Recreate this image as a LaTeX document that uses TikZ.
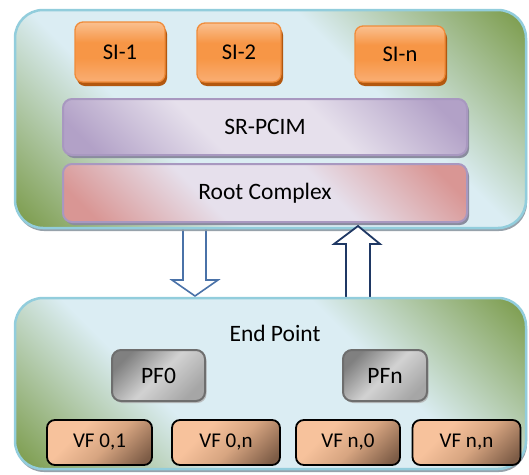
\documentclass[tikz,border=0pt]{standalone}
\usepackage{fontspec}
\setmainfont{Carlito}
\usetikzlibrary{shadows}
\definecolor{cgreen}{HTML}{7B9B4A}
\definecolor{clight}{HTML}{DBEDF3}
\definecolor{cborder}{HTML}{92CDDC}
\definecolor{contShadow}{HTML}{8C98A2}
\definecolor{siTop}{HTML}{FAC090}
\definecolor{siMid}{HTML}{F79646}
\definecolor{siBot}{HTML}{F9AE74}
\definecolor{siBorder}{HTML}{F08C3A}
\definecolor{siShadow}{HTML}{B3580F}
\definecolor{pcimLight}{HTML}{E6E0EC}
\definecolor{pcimDark}{HTML}{B2A1C7}
\definecolor{pcimBorder}{HTML}{A898C0}
\definecolor{rcDark}{HTML}{D99694}
\definecolor{boxShadow}{HTML}{8A8C9E}
\definecolor{pfDark}{HTML}{808080}
\definecolor{pfMid}{HTML}{A6A6A6}
\definecolor{pfLight}{HTML}{D2D2D2}
\definecolor{pfBorder}{HTML}{6E6E6E}
\definecolor{vfLight}{HTML}{F7C29C}
\definecolor{vfMid}{HTML}{D7A581}
\definecolor{vfDark}{HTML}{7D5C46}
\definecolor{arrowA}{HTML}{4A72A8}
\definecolor{arrowB}{HTML}{1F3864}
\pgfdeclareverticalshading{contsh}{100bp}{color(0bp)=(cgreen); color(15bp)=(cgreen); color(37bp)=(clight); color(63bp)=(clight); color(85bp)=(cgreen); color(100bp)=(cgreen)}
\pgfdeclareverticalshading{pcimsh}{100bp}{color(0bp)=(pcimDark); color(20bp)=(pcimDark); color(40bp)=(pcimLight); color(60bp)=(pcimLight); color(80bp)=(pcimDark); color(100bp)=(pcimDark)}
\pgfdeclareverticalshading{rcsh}{100bp}{color(0bp)=(rcDark); color(20bp)=(rcDark); color(40bp)=(pcimLight); color(60bp)=(pcimLight); color(80bp)=(rcDark); color(100bp)=(rcDark)}
\pgfdeclareverticalshading{sish}{100bp}{color(0bp)=(siBot); color(25bp)=(siBot); color(45bp)=(siMid); color(58bp)=(siMid); color(75bp)=(siTop); color(100bp)=(siTop)}
\pgfdeclareverticalshading{pfsh}{100bp}{color(0bp)=(pfMid); color(25bp)=(pfMid); color(50bp)=(pfLight); color(75bp)=(pfDark); color(100bp)=(pfDark)}
\pgfdeclareverticalshading{vfsh}{100bp}{color(0bp)=(vfDark); color(20bp)=(vfDark); color(45bp)=(vfMid); color(65bp)=(vfLight); color(100bp)=(vfLight)}
\begin{document}
\begin{tikzpicture}[x=1pt,y=1pt,
  contbox/.style={draw=cborder, line width=2.5pt, rounded corners=28pt, shade, shading=contsh, shading angle=-45,
    drop shadow={shadow xshift=1pt, shadow yshift=-3pt, fill=contShadow, opacity=0.9}, inner sep=0pt},
  sibox/.style={draw=siBorder, line width=1.3pt, rounded corners=8pt, shade, shading=sish,
    drop shadow={shadow xshift=2pt, shadow yshift=-4pt, fill=siShadow, opacity=1}, inner sep=0pt,
    font=\fontsize{22.5}{26}\selectfont},
  layerbox/.style={draw=pcimBorder, line width=2pt, rounded corners=9pt, shade, shading angle=-45,
    drop shadow={shadow xshift=2pt, shadow yshift=-3pt, fill=boxShadow, opacity=1}, inner sep=0pt,
    font=\fontsize{23.5}{27}\selectfont},
  pfbox/.style={draw=pfBorder, line width=2pt, rounded corners=9pt, shade, shading=pfsh, shading angle=45,
    drop shadow={shadow xshift=1.5pt, shadow yshift=-2pt, fill=gray!60, opacity=0.8}, inner sep=0pt,
    font=\fontsize{23.5}{27}\selectfont},
  vfbox/.style={draw=black, line width=1.8pt, rounded corners=8pt, shade, shading=vfsh, shading angle=45,
    inner sep=0pt, minimum height=45, font=\fontsize{21}{25}\selectfont},
  darrow/.style={draw=arrowA, line width=1.6pt, fill=white, line join=miter},
  uarrow/.style={draw=arrowB, line width=1.8pt, fill=white, line join=miter}
]
\useasboundingbox (0,0) rectangle (529,-474);
% down arrow (behind the upper container)
\coordinate (dtip) at (195,-296);
\draw[darrow] (dtip) -- ++(23,16) -- ++(-12,0) -- ++(0,65) -- ++(-23,0) -- ++(0,-65) -- ++(-11,0) -- cycle;
% upper container
\node[contbox, minimum width=511, minimum height=218] (top) at (270.5,-119) {};
\node[sibox, minimum width=90, minimum height=60] (si1) at (120,-52) {SI-1};
\node[sibox, minimum width=84, minimum height=59] (si2) at (239,-52.5) {SI-2};
\node[sibox, minimum width=90, minimum height=56] (sin) at (400,-54) {SI-n};
\node[layerbox, shading=pcimsh, minimum width=404, minimum height=56] (pcim) at (265,-127) {SR-PCIM};
\node[layerbox, shading=rcsh, minimum width=404, minimum height=58] (rc) at (265,-193) {Root Complex};
% up arrow
\coordinate (utip) at (358,-226);
\draw[uarrow] (utip) -- ++(22,-18) -- ++(-10,0) -- ++(0,-55) -- ++(-24,0) -- ++(0,55) -- ++(-12,0) -- cycle;
% lower container
\node[contbox, minimum width=511, minimum height=171] (ep) at (270.5,-383.5) {};
\node[font=\fontsize{23.5}{27}\selectfont, inner sep=0pt] (eplabel) at (275,-333) {End Point};
\node[pfbox, minimum width=93, minimum height=51] (pf0) at (158.5,-375.5) {PF0};
\node[pfbox, minimum width=84, minimum height=51] (pfn) at (385,-375.5) {PFn};
\node[vfbox, minimum width=105] (vf01) at (99.5,-442.5) {VF 0,1};
\node[vfbox, minimum width=108] (vf0n) at (226,-442.5) {VF 0,n};
\node[vfbox, minimum width=104] (vfn0) at (348,-442.5) {VF n,0};
\node[vfbox, minimum width=108] (vfnn) at (466.5,-442.5) {VF n,n};
\end{tikzpicture}
\end{document}
